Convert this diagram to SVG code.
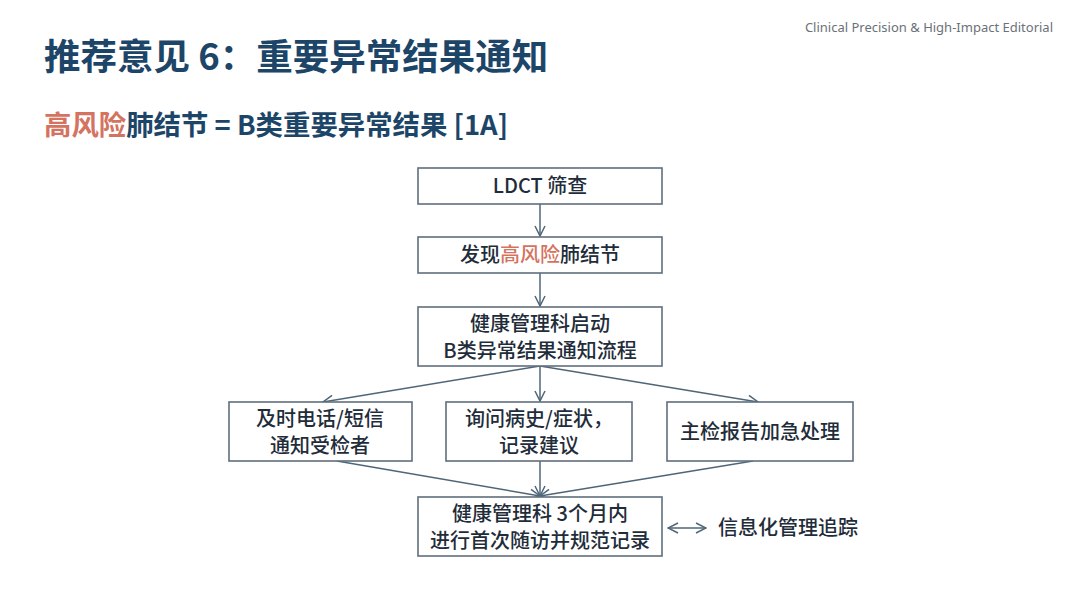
<svg xmlns="http://www.w3.org/2000/svg" width="1080" height="602" viewBox="0 0 1080 602">
<defs>
<style>
.t{font-family:"Noto Sans","Noto Sans CJK SC",sans-serif;}
.box{fill:#ffffff;stroke:#5f6f7c;stroke-width:1.6;}
.bt{font-family:"Noto Sans CJK SC","Noto Sans",sans-serif;font-size:20px;fill:#1f2d3a;text-anchor:middle;font-weight:500;}
.red{fill:#d4735f;}
.ln{stroke:#4f6678;stroke-width:1.5;fill:none;}
</style>
<marker id="ah" viewBox="0 0 12 12" refX="11" refY="6" markerWidth="12" markerHeight="12" markerUnits="userSpaceOnUse" orient="auto-start-reverse">
<path d="M1,1 L11,6 L1,11" fill="none" stroke="#4f6678" stroke-width="1.5"/>
</marker>
</defs>
<rect width="1080" height="602" fill="#ffffff"/>
<text class="t" x="1053" y="32" font-size="13" fill="#6b7178" text-anchor="end">Clinical Precision &amp; High-Impact Editorial</text>
<text x="44" y="70" font-family="Noto Sans CJK SC,Noto Sans,sans-serif" font-size="36.5" font-weight="700" fill="#1d4568">推荐意见 6：重要异常结果通知</text>
<text x="44" y="135" font-family="Noto Sans CJK SC,Noto Sans,sans-serif" font-size="27.4" font-weight="700" fill="#1d4568"><tspan class="red">高风险</tspan>肺结节 = B类重要异常结果 [1A]</text>

<g id="connectors">
<line class="ln" x1="540" y1="204" x2="540" y2="236" marker-end="url(#ah)"/>
<line class="ln" x1="540" y1="273" x2="540" y2="306" marker-end="url(#ah)"/>
<line class="ln" x1="540" y1="366" x2="323" y2="402" marker-end="url(#ah)"/>
<line class="ln" x1="540" y1="366" x2="540" y2="401" marker-end="url(#ah)"/>
<line class="ln" x1="540" y1="366" x2="758" y2="402" marker-end="url(#ah)"/>
<line class="ln" x1="337" y1="461" x2="540" y2="496" marker-end="url(#ah)"/>
<line class="ln" x1="540" y1="461" x2="540" y2="496" marker-end="url(#ah)"/>
<line class="ln" x1="753" y1="461" x2="540" y2="496" marker-end="url(#ah)"/>
<line class="ln" x1="668" y1="528" x2="706" y2="528" marker-start="url(#ah)" marker-end="url(#ah)"/>
</g>

<g id="n1"><rect class="box" x="418" y="168" width="244" height="36"/><text class="bt" x="540" y="193">LDCT 筛查</text></g>
<g id="n2"><rect class="box" x="418" y="237" width="244" height="36"/><text class="bt" x="540" y="262">发现<tspan class="red">高风险</tspan>肺结节</text></g>
<g id="n3"><rect class="box" x="418" y="307" width="244" height="59"/><text class="bt" x="540" y="331">健康管理科启动</text><text class="bt" x="540" y="358">B类异常结果通知流程</text></g>
<g id="n4"><rect class="box" x="229" y="402" width="183" height="59"/><text class="bt" x="320" y="426">及时电话/短信</text><text class="bt" x="320" y="453">通知受检者</text></g>
<g id="n5"><rect class="box" x="446" y="402" width="186" height="59"/><text class="bt" x="539" y="426">询问病史/症状，</text><text class="bt" x="539" y="453">记录建议</text></g>
<g id="n6"><rect class="box" x="667" y="402" width="186" height="59"/><text class="bt" x="760" y="439">主检报告加急处理</text></g>
<g id="n7"><rect class="box" x="418" y="497" width="244" height="59"/><text class="bt" x="540" y="521">健康管理科 3个月内</text><text class="bt" x="540" y="548">进行首次随访并规范记录</text></g>
<g id="n8"><text class="bt" x="718" y="535" style="text-anchor:start">信息化管理追踪</text></g>
</svg>
